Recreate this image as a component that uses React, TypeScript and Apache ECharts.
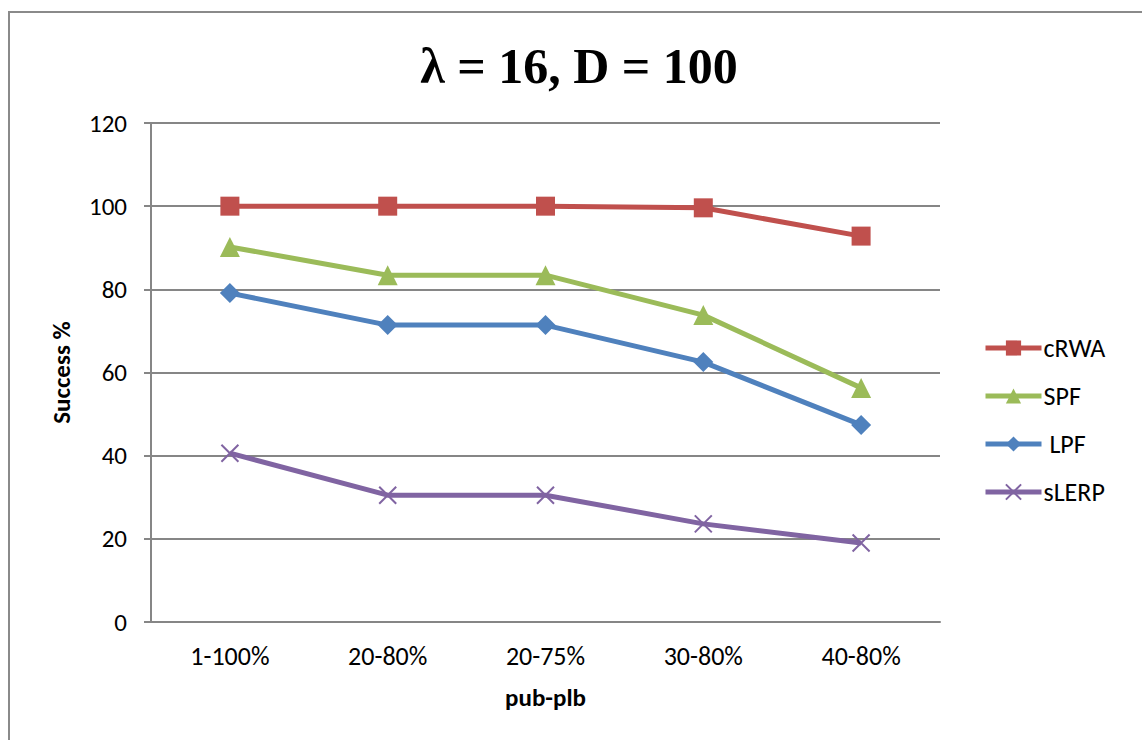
import React, { useEffect, useRef } from "react";
import * as echarts from "echarts";

const categories = ["1-100%", "20-80%", "20-75%", "30-80%", "40-80%"];
const cRWA = [100, 100, 100, 99.6, 92.8];
const SPF = [90.2, 83.4, 83.4, 73.8, 56.3];
const LPF = [79.1, 71.4, 71.4, 62.5, 47.4];
const sLERP = [40.6, 30.5, 30.5, 23.6, 19.0];
const seriesNames = ["cRWA", "SPF", " LPF", "sLERP"];

const labelFont = "Carlito, 'Liberation Sans', sans-serif";

export default function App() {
  const ref = useRef<HTMLDivElement>(null);
  useEffect(() => {
    if (!ref.current) return;
    const chart = echarts.init(ref.current, null, { renderer: "svg" });
    const mk = (name: string, data: number[], color: string, symbol: string, size: number, extra: any = {}) => ({
      name,
      type: "line",
      data,
      symbol,
      symbolSize: size,
      lineStyle: { color, width: 5 },
      itemStyle: { color, ...extra },
    });
    chart.setOption({
      animation: false,
      backgroundColor: "#fff",
      title: {
        text: "λ = 16, D = 100",
        left: 574,
        textAlign: "center",
        top: 36,
        textStyle: { fontFamily: "'Liberation Serif', serif", fontWeight: "bold", fontSize: 50, color: "#000" },
      },
      graphic: [
        {
          type: "rect",
          shape: { x: 9, y: 12, width: 1200, height: 800 },
          style: { fill: "none", stroke: "#8a8a8a", lineWidth: 2 },
          silent: true,
        },
      ],
      legend: {
        orient: "vertical",
        left: 978,
        top: 330,
        itemWidth: 56,
        itemHeight: 19,
        itemGap: 22,
        lineStyle: { width: 5 },
        textStyle: { fontFamily: labelFont, fontSize: 26, color: "#000", padding: [0, 0, 0, -3] },
        data: seriesNames,
      },
      grid: { left: 151, right: 202, top: 123, bottom: 118 },
      xAxis: {
        type: "category",
        data: categories,
        boundaryGap: true,
        name: "pub-plb",
        nameLocation: "middle",
        nameGap: 63,
        nameTextStyle: { fontFamily: labelFont, fontWeight: "bold", fontSize: 25, color: "#000" },
        axisLine: { lineStyle: { color: "#868686", width: 2 } },
        axisTick: { show: false },
        axisLabel: { fontFamily: labelFont, fontSize: 26, color: "#000", margin: 21 },
      },
      yAxis: {
        type: "value",
        min: 0,
        max: 120,
        interval: 20,
        name: "Success %",
        nameLocation: "middle",
        nameGap: 77,
        nameTextStyle: { fontFamily: labelFont, fontWeight: "bold", fontSize: 25, color: "#000" },
        axisLine: { show: true, lineStyle: { color: "#868686", width: 2 } },
        axisTick: { show: true, length: 7, lineStyle: { color: "#868686", width: 2 } },
        axisLabel: { fontFamily: labelFont, fontSize: 25, color: "#000", margin: 24 },
        splitLine: { lineStyle: { color: "#868686", width: 2 } },
      },
      series: [
        mk(seriesNames[0], cRWA, "#C0504D", "rect", 19),
        mk(seriesNames[1], SPF, "#9BBB59", "triangle", 20),
        mk(seriesNames[2], LPF, "#4F81BD", "diamond", 20),
        mk(seriesNames[3], sLERP, "#8064A2", "path://M0,0L10,10M10,0L0,10", 17, {
          borderColor: "#8064A2",
          borderWidth: 2,
          color: "#8064A2",
        }),
      ],
    });
    return () => chart.dispose();
  }, []);
  return (
    <div
      ref={ref}
      style={{ position: "fixed", left: 0, top: 0, width: 1142, height: 740 }}
    />
  );
}
